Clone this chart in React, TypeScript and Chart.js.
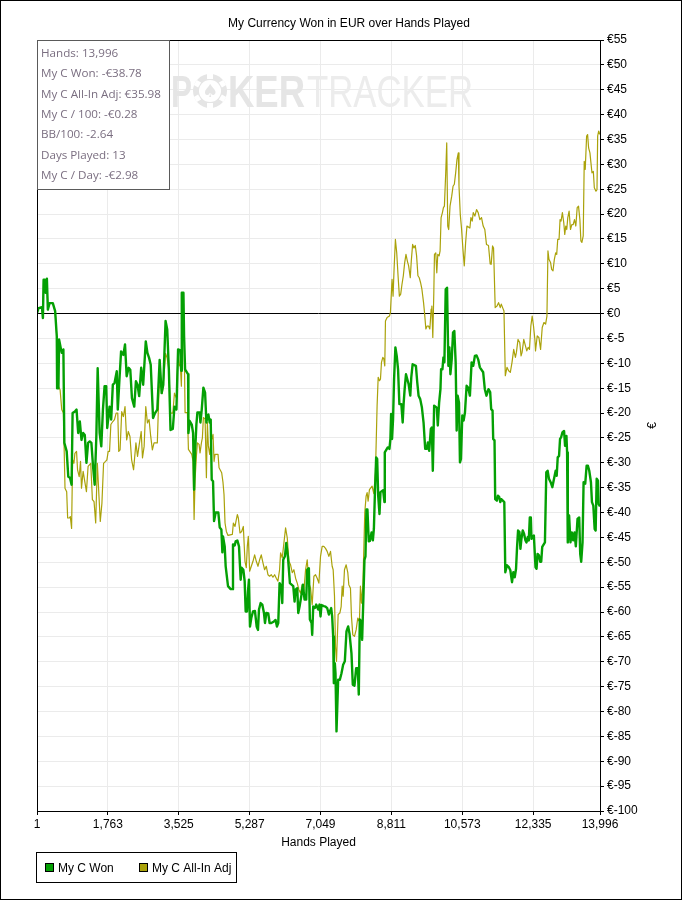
import React, { useEffect, useRef } from "react";
import { Chart, registerables } from "chart.js";

Chart.register(...registerables);

const chartTitle = "My Currency Won in EUR over Hands Played";
const xAxisTitle = "Hands Played";
const yAxisTitle = "€";
const xTicks = [1, 1763, 3525, 5287, 7049, 8811, 10573, 12335, 13996];
const yMin = -100;
const yMax = 55;
const seriesNames = ["My C Won", "My C All-In Adj"];
const seriesColors = ["#04a004", "#aaa20a"];
const statLines = [
  "Hands: 13,996",
  "My C Won: -€38.78",
  "My C All-In Adj: €35.98",
  "My C / 100: -€0.28",
  "BB/100: -2.64",
  "Days Played: 13",
  "My C / Day: -€2.98",
];

const wonHands = [
  1, 42, 124, 148, 165, 198, 214, 247, 271, 312, 394, 452, 493, 501, 534, 550, 591, 616, 657, 681,
  739, 779, 821, 861, 886, 943, 984, 1025, 1066, 1107, 1148, 1189, 1230, 1271, 1312, 1353, 1394, 1435, 1476, 1509,
  1558, 1599, 1640, 1681, 1722, 1747, 1804, 1845, 1886, 1927, 1984, 2009, 2050, 2091, 2148, 2189, 2230, 2279, 2320, 2361,
  2418, 2460, 2500, 2541, 2591, 2640, 2705, 2746, 2787, 2828, 2886, 2935, 2992, 3050, 3099, 3140, 3197, 3238, 3279, 3320,
  3377, 3418, 3467, 3508, 3566, 3585, 3600, 3641, 3657, 3682, 3757, 3765, 3798, 3848, 3881, 3906, 3930, 3963, 3988, 4046,
  4063, 4096, 4137, 4179, 4212, 4236, 4261, 4294, 4319, 4344, 4377, 4402, 4443, 4509, 4543, 4584, 4609, 4625, 4667, 4691,
  4749, 4815, 4857, 4873, 4915, 4940, 4981, 5022, 5064, 5088, 5130, 5163, 5188, 5221, 5246, 5270, 5295, 5328, 5370, 5419,
  5461, 5494, 5519, 5560, 5601, 5643, 5668, 5701, 5750, 5783, 5825, 5891, 5932, 5965, 5998, 6031, 6073, 6098, 6122, 6164,
  6197, 6238, 6288, 6329, 6371, 6404, 6429, 6470, 6495, 6528, 6569, 6611, 6652, 6693, 6718, 6759, 6784, 6826, 6842, 6867,
  6908, 6941, 6991, 7024, 7049, 7074, 7132, 7173, 7214, 7256, 7281, 7314, 7338, 7363, 7380, 7405, 7421, 7446, 7487, 7529,
  7570, 7611, 7653, 7694, 7736, 7769, 7818, 7851, 7893, 7934, 7975, 8000, 8025, 8058, 8083, 8108, 8141, 8166, 8190, 8215,
  8248, 8276, 8317, 8350, 8375, 8399, 8432, 8457, 8482, 8515, 8539, 8605, 8638, 8646, 8720, 8762, 8786, 8803, 8827, 8852,
  8877, 8910, 8943, 8976, 9009, 9058, 9091, 9116, 9140, 9173, 9206, 9239, 9280, 9305, 9338, 9420, 9453, 9486, 9527, 9569,
  9610, 9651, 9692, 9717, 9750, 9791, 9816, 9840, 9873, 9939, 9964, 9997, 10030, 10046, 10079, 10104, 10128, 10161, 10194, 10227,
  10252, 10277, 10310, 10343, 10375, 10408, 10433, 10458, 10491, 10515, 10540, 10573, 10606, 10639, 10680, 10721, 10762, 10804, 10845, 10886,
  10927, 10968, 11009, 11092, 11133, 11174, 11224, 11266, 11291, 11325, 11341, 11374, 11391, 11433, 11458, 11492, 11517, 11542, 11617, 11642,
  11684, 11725, 11767, 11809, 11842, 11876, 11909, 11934, 11959, 11993, 12018, 12043, 12076, 12110, 12143, 12168, 12201, 12226, 12251, 12277,
  12293, 12352, 12393, 12419, 12444, 12477, 12510, 12535, 12560, 12627, 12661, 12694, 12727, 12769, 12811, 12853, 12894, 12920, 12945, 12978,
  13003, 13028, 13061, 13103, 13128, 13162, 13178, 13195, 13228, 13262, 13295, 13329, 13362, 13395, 13437, 13479, 13504, 13529, 13562, 13588,
  13629, 13663, 13696, 13729, 13771, 13796, 13830, 13863, 13888, 13913, 13946, 13963, 13996,
];
const wonValues = [
  0.1, 1.1, 1.3, -0.9, 6.8, 6.8, 4.2, 7.0, 0.8, 2.1, 2.1, 0.5, -4.6, -15, -15, -5.2, -6.9, -7.9, -7.2, -26,
  -27.7, -32.8, -33, -34.4, -20, -19.7, -19.3, -24, -21.7, -25.4, -24, -24.4, -30, -26, -25.7, -26, -30.7, -34.4, -24.7, -11,
  -24, -26.7, -19.3, -14.6, -14.6, -23, -18.7, -21.3, -14.3, -14, -11.6, -19.3, -13.3, -7.6, -8.3, -6.2, -12.6, -10.9, -11.3, -17,
  -18.7, -13.6, -14.3, -16.6, -10.9, -14.3, -5.6, -7.9, -8.9, -10.3, -21, -20, -19.3, -9.3, -16, -14.3, -1.5, -3.2, -11.3, -23.4,
  -23.2, -18.7, -19.3, -7.2, -7.4, -11.5, 4.2, 4.2, -4.5, -11.2, -12.2, -24, -21.6, -22.3, -24, -35.4, -28, -22.3, -19.9, -19.9,
  -21.9, -19.3, -14.9, -15.9, -21.9, -20.6, -20.3, -21.9, -21.3, -33.4, -33.7, -41.7, -40, -40, -43, -43.4, -48, -44.8, -46.8, -50.8,
  -54.8, -55.4, -55.4, -46.4, -46.6, -45.8, -45.6, -46.8, -53.5, -51.1, -51.5, -53.8, -59.9, -59.9, -55.8, -53.5, -62.9, -61.2, -59.9, -59.8,
  -62.9, -63.6, -59.5, -58.2, -58.5, -60.2, -62.2, -60.2, -60.3, -62.2, -62.2, -61.9, -61.6, -62.9, -62.2, -54.2, -54.8, -58.2, -49.5, -48.8,
  -46.1, -48.8, -54.2, -54.5, -54.8, -57.9, -55.5, -55.2, -60.2, -58.9, -56.9, -54.5, -57.5, -57.5, -51.5, -51.2, -61.5, -62.2, -64.6, -58.9,
  -59.2, -58.5, -59.5, -58.5, -60.9, -58.6, -58.8, -58.9, -59.2, -60.5, -59.9, -59.2, -60.9, -64.9, -74.3, -70.3, -72.3, -84, -73.6, -73.6,
  -72.3, -70.6, -69.9, -63.9, -62.9, -64.3, -68.3, -74.6, -74.8, -71.3, -71.3, -76.6, -61.5, -61.9, -65.6, -58.9, -49.5, -48.8, -39.4, -39.4,
  -45.8, -45.7, -44, -45.6, -43.3, -36.6, -28.9, -29.2, -36.6, -40.3, -35.9, -35.5, -37.9, -27.9, -26.9, -27.2, -25.2, -20.2, -25.2, -21.2,
  -13.2, -6.8, -8.5, -11.2, -18.2, -18.2, -21.9, -17.9, -15.2, -12.2, -13.2, -14.2, -16.5, -12.8, -10.2, -10.5, -13.8, -16.5, -17.2, -18.9,
  -21.9, -27.2, -27.2, -25.9, -27.6, -23.2, -22.9, -31.6, -18.5, -18.9, -22.5, -17.9, -15.2, -11.2, -11.2, -8.8, -9.8, 4.9, 5.2, -10.5,
  -6.8, -12.2, -9.2, -3.8, -3.5, -9.8, -23.5, -16.5, -17.9, -29.9, -29.2, -20.5, -21.5, -19.9, -14.5, -14.9, -16.5, -9.8, -10.5, -8.5,
  -8.4, -9.2, -10.8, -11.8, -15.2, -16.5, -15.2, -15.8, -19.2, -19.5, -25.2, -25.5, -37.3, -37.6, -36.6, -36.9, -37.9, -37.3, -37.9, -52,
  -50.6, -50.9, -51.6, -54, -52, -53, -51.3, -47, -43.6, -43.9, -47.3, -45.3, -43.6, -44.3, -45.6, -46, -44.9, -45.6, -41, -41,
  -45.3, -44.6, -51, -51.3, -48.3, -48.6, -49.9, -49.9, -46.9, -46, -31.9, -31.6, -33.2, -33.9, -34.9, -33.2, -31.6, -32.6, -28.9, -28.6,
  -25.2, -24.9, -23.9, -23.6, -26.6, -24.6, -27.9, -46, -40.6, -46, -44, -45.6, -44, -46.8, -41.3, -41, -48.3, -49.9, -46, -33.9,
  -34.2, -30.6, -30.6, -31.6, -33.9, -37.9, -38.6, -43.3, -43.6, -33.2, -33.6, -38.3, -38.78,
];

const adjHands = [
  1, 42, 124, 148, 165, 198, 214, 247, 271, 312, 394, 452, 493, 509, 575, 616, 657, 697, 739, 763,
  804, 829, 861, 886, 919, 943, 984, 1009, 1050, 1083, 1107, 1148, 1189, 1230, 1271, 1337, 1378, 1419, 1460, 1501,
  1542, 1574, 1615, 1656, 1705, 1738, 1771, 1804, 1837, 1886, 1927, 1968, 2009, 2033, 2066, 2107, 2148, 2189, 2230, 2271,
  2312, 2353, 2402, 2460, 2500, 2541, 2591, 2623, 2664, 2705, 2746, 2787, 2828, 2869, 2910, 2992, 3033, 3074, 3115, 3156,
  3197, 3238, 3279, 3320, 3377, 3418, 3467, 3508, 3545, 3566, 3590, 3615, 3645, 3657, 3682, 3740, 3765, 3848, 3881, 3906,
  3930, 3963, 3988, 4030, 4054, 4088, 4112, 4137, 4179, 4212, 4236, 4261, 4294, 4319, 4344, 4377, 4402, 4427, 4501, 4526,
  4592, 4625, 4650, 4675, 4708, 4749, 4857, 4882, 4923, 4956, 4981, 5006, 5047, 5088, 5130, 5171, 5204, 5229, 5254, 5287,
  5328, 5370, 5411, 5452, 5494, 5535, 5576, 5618, 5659, 5701, 5742, 5783, 5825, 5866, 5908, 5949, 5990, 6031, 6056, 6098,
  6139, 6180, 6222, 6263, 6304, 6346, 6387, 6429, 6470, 6511, 6553, 6594, 6635, 6677, 6718, 6759, 6801, 6842, 6884, 6925,
  6966, 7008, 7049, 7090, 7132, 7173, 7214, 7256, 7297, 7338, 7363, 7396, 7421, 7446, 7487, 7529, 7562, 7587, 7611, 7644,
  7686, 7727, 7752, 7793, 7818, 7851, 7893, 7934, 7975, 8016, 8041, 8066, 8100, 8149, 8182, 8207, 8232, 8265, 8331, 8373,
  8414, 8455, 8482, 8515, 8539, 8564, 8597, 8622, 8646, 8663, 8704, 8762, 8786, 8827, 8852, 8877, 8910, 8943, 8976, 9009,
  9042, 9074, 9107, 9140, 9173, 9206, 9239, 9280, 9305, 9338, 9371, 9404, 9437, 9470, 9503, 9536, 9569, 9610, 9634, 9667,
  9700, 9733, 9766, 9799, 9816, 9840, 9865, 9881, 9914, 9939, 9964, 9997, 10021, 10046, 10079, 10104, 10128, 10161, 10186, 10211,
  10235, 10268, 10310, 10343, 10375, 10408, 10441, 10474, 10491, 10523, 10556, 10589, 10622, 10655, 10688, 10762, 10787, 10820, 10845, 10886,
  10927, 10968, 11009, 11051, 11092, 11133, 11174, 11224, 11266, 11291, 11325, 11350, 11391, 11433, 11475, 11517, 11542, 11575, 11609, 11642,
  11684, 11725, 11767, 11809, 11851, 11893, 11918, 11959, 12001, 12034, 12059, 12101, 12143, 12176, 12210, 12243, 12277, 12310, 12343, 12377,
  12393, 12435, 12477, 12519, 12560, 12602, 12644, 12677, 12702, 12727, 12769, 12794, 12828, 12861, 12894, 12920, 12945, 12978, 13003, 13028,
  13061, 13095, 13120, 13145, 13170, 13195, 13228, 13262, 13295, 13329, 13362, 13395, 13429, 13462, 13496, 13521, 13546, 13579, 13604, 13629,
  13663, 13688, 13713, 13746, 13771, 13796, 13830, 13855, 13896, 13921, 13938, 13963, 13996,
];
const adjValues = [
  0.1, 1.1, 1.3, -0.9, 6.8, 6.8, 4.2, 7.0, 0.8, 2.1, 2.1, 0.5, -4.6, -14.3, -15.3, -19.3, -20, -35.1, -35.8, -41.1,
  -41.1, -40.8, -43.2, -29.4, -30.1, -28.1, -27.7, -31.4, -32.8, -29.7, -35.1, -31.7, -33.8, -35.8, -30.7, -30.1, -37.4, -37.8, -42.1, -30.1,
  -36.8, -41.8, -38.1, -30.1, -29.7, -29.4, -27.7, -27.7, -22.3, -21.7, -21.3, -20, -20, -27.7, -27.4, -19.7, -20.7, -18.7, -25.4, -23.7,
  -24.7, -29.4, -31.4, -26, -28.7, -26.4, -23.7, -29, -26.7, -18.7, -22, -21.3, -24.7, -27.4, -26, -26, -15.3, -13.3, -16, -12.6,
  -8, -9, -11.3, -20, -20, -16, -17, -8, -10.5, -10.6, -14.6, -3, -3, -4, -19.9, -19.9, -27.3, -28.3, -29.7, -41.4,
  -33.4, -28.7, -26, -26.3, -28, -26, -25, -20.9, -21.2, -33, -21.9, -26.6, -28.3, -26, -25.3, -24.3, -29.7, -28.3, -28.3, -31,
  -32, -34, -36.4, -42.1, -43.8, -44.6, -44.4, -42.1, -42.8, -41.4, -40.4, -41.1, -44.1, -43.8, -42.8, -49.8, -51.1, -46.8, -44.8, -51.8,
  -50.8, -49.8, -48.5, -49.8, -50.8, -49.5, -48.5, -50.1, -51.5, -50.8, -52.5, -52.8, -52.5, -53, -52.5, -53.2, -53.8, -51.5, -48.1, -49.1,
  -46.1, -43.1, -45.1, -49.8, -50.5, -52.1, -51.5, -53.2, -54.2, -55.5, -56.2, -54.5, -55.8, -51.5, -49.5, -54.2, -55.2, -58.5, -52.8, -52.5,
  -53.2, -54.2, -48.8, -46.8, -46.8, -47.2, -47.8, -48.8, -47.8, -50.8, -51.5, -56.8, -66.9, -69.9, -60.5, -60.2, -58.9, -54.8, -56.8, -51.5,
  -50.5, -52.1, -54.5, -55.2, -60.9, -64.6, -64.9, -63.6, -61.2, -61.9, -54.8, -58.2, -54.8, -40, -36.7, -36, -37.7, -35.4, -34.7, -36.2,
  -32, -18.6, -12.8, -13.5, -13.2, -9.8, -8.8, -9.1, -10.5, -1.5, -0.8, -0.5, 0.2, 6.9, 3.5, 8.9, 14.9, 12.2, 7.6, 3.5,
  3.9, 5.9, 7.6, 10.2, 11.9, 10.6, 9.6, 7.2, 10.6, 13.9, 13.2, 13.7, 11.6, 7.6, 7.2, 6.2, 4.9, 2.2, 0.2, -3.1,
  -2.5, -2.5, -3.1, 0.9, 1.5, -4.8, 4.2, 11.9, 12.2, 8.2, 11.9, 11.6, 12.6, 19.3, 20.3, 21.3, 21.6, 28.3, 34.3, 17.6,
  16.9, 21.6, 23.6, 25.6, 26, 28.3, 31, 32.3, 25.6, 19.9, 16.9, 12.9, 9.6, 14.2, 17.6, 17.2, 19.3, 18.6, 20.3, 19.6,
  20.9, 20.3, 18.9, 19.3, 17.6, 16.9, 13.9, 13.7, 10, 9.9, 13.6, 13.2, 1.2, 1.5, 2.2, 1.2, 1.9, 1.2, 0.5, -12.5,
  -10.8, -11.5, -11.8, -9.8, -7.2, -8.8, -7.8, -5.2, -5.8, -8.5, -7.8, -5.2, -6.5, -7.5, -6.8, -7.2, -2.5, -0.5, -2.5, -5.2,
  -7.5, -4.5, -4.8, -7.2, -2.8, -1.8, -2.1, -0.5, 12.6, 10.9, 10.2, 8.9, 8.6, 10.9, 12.2, 11.9, 14.9, 14.9, 18.9, 18.6,
  20.3, 18.3, 15.9, 17.6, 16.9, 19.3, 20.6, 16.9, 17.9, 17.9, 18.9, 17.6, 21.3, 21.6, 18.9, 14.6, 14.3, 15.6, 30.6, 29,
  35.7, 36, 33.3, 32.3, 30.3, 28.3, 28.6, 25.3, 24.6, 24.9, 35.7, 36.7, 35.98,
];

const TEXT_FONT = '"Liberation Sans", Arial, sans-serif';
const STAT_FONT = '"Open Sans", "Noto Sans", sans-serif';

function drawScaledText(ctx: CanvasRenderingContext2D, text: string, x: number, baseline: number, width: number) {
  const w = ctx.measureText(text).width;
  ctx.save();
  ctx.translate(x, baseline);
  ctx.scale(width / w, 1);
  ctx.fillText(text, 0, 0);
  ctx.restore();
}

const decorPlugin = {
  id: "decor",
  beforeDraw(chart: any) {
    const ctx = chart.ctx as CanvasRenderingContext2D;
    ctx.save();
    ctx.fillStyle = "#ffffff";
    ctx.fillRect(0, 0, chart.width, chart.height);
    ctx.restore();
  },
  beforeDatasetsDraw(chart: any) {
    const ctx = chart.ctx as CanvasRenderingContext2D;
    ctx.save();
    // watermark
    ctx.textAlign = "left";
    ctx.textBaseline = "alphabetic";
    ctx.font = `bold 44px ${TEXT_FONT}`;
    ctx.fillStyle = "#e5e5e5";
    drawScaledText(ctx, "P", 171, 107, 21);
    drawScaledText(ctx, "KER", 228, 107, 77);
    ctx.font = `44px ${TEXT_FONT}`;
    ctx.fillStyle = "#ececec";
    drawScaledText(ctx, "TRACKER", 307, 107, 166);
    // chip
    const cx = 210, cy = 91;
    ctx.fillStyle = "#e5e5e5";
    ctx.beginPath();
    ctx.arc(cx, cy, 17, 0, Math.PI * 2);
    ctx.fill();
    ctx.fillStyle = "#ffffff";
    for (let i = 0; i < 6; i++) {
      const a = (i * Math.PI) / 3 + Math.PI / 6;
      ctx.save();
      ctx.translate(cx + Math.cos(a) * 14.5, cy + Math.sin(a) * 14.5);
      ctx.rotate(a);
      ctx.fillRect(-2.5, -3, 5, 6);
      ctx.restore();
    }
    ctx.beginPath();
    ctx.arc(cx, cy, 11, 0, Math.PI * 2);
    ctx.fill();
    ctx.fillStyle = "#e5e5e5";
    ctx.font = `18px "DejaVu Sans", sans-serif`;
    ctx.textAlign = "center";
    ctx.textBaseline = "middle";
    ctx.fillText("\u2660", cx, cy + 1);
    ctx.restore();
  },
  afterDatasetsDraw(chart: any) {
    const ctx = chart.ctx as CanvasRenderingContext2D;
    const area = chart.chartArea;
    ctx.save();
    // plot frame (left and top edges)
    ctx.strokeStyle = "#000";
    ctx.lineWidth = 1;
    const lx = Math.round(area.left) + 0.5;
    const ty = Math.round(area.top) + 0.5;
    ctx.beginPath();
    ctx.moveTo(lx, Math.round(area.bottom) + 0.5);
    ctx.lineTo(lx, ty);
    ctx.lineTo(Math.round(area.right) + 0.5, ty);
    ctx.stroke();
    // outer frame
    ctx.strokeRect(0.5, 0.5, 681, 899);

    // stats box
    ctx.fillStyle = "#ffffff";
    ctx.fillRect(lx, ty, 132, 149);
    ctx.strokeStyle = "#5a5a5a";
    ctx.strokeRect(lx, ty, 132, 149);
    ctx.font = `12px ${STAT_FONT}`;
    const wide = ctx.measureText(statLines[2]).width;
    const size = Math.min(12.5, (12 * 120) / wide);
    ctx.font = `${size.toFixed(2)}px ${STAT_FONT}`;
    ctx.fillStyle = "#7a6e80";
    ctx.textAlign = "left";
    ctx.textBaseline = "alphabetic";
    statLines.forEach((line, i) => {
      ctx.fillText(line, 41, 57 + i * 20.3);
    });

    // title
    ctx.fillStyle = "#000";
    ctx.font = `12px ${TEXT_FONT}`;
    ctx.textAlign = "center";
    ctx.fillText(chartTitle, 349, 27);

    // x axis title
    ctx.fillText(xAxisTitle, (area.left + area.right) / 2, 846);

    // y axis title (rotated)
    ctx.save();
    ctx.translate(656, (area.top + area.bottom) / 2);
    ctx.rotate(-Math.PI / 2);
    ctx.textBaseline = "alphabetic";
    ctx.fillText(yAxisTitle, 0, 0);
    ctx.restore();

    // legend
    ctx.strokeStyle = "#000";
    ctx.strokeRect(36.5, 852.5, 200, 30);
    ctx.textAlign = "left";
    const items = [
      { x: 45, tx: 58 },
      { x: 139, tx: 152 },
    ];
    items.forEach((it, i) => {
      ctx.fillStyle = seriesColors[i];
      ctx.fillRect(it.x, 863, 9, 9);
      ctx.strokeStyle = "#000";
      ctx.strokeRect(it.x + 0.5, 863.5, 8, 8);
      ctx.fillStyle = "#000";
      ctx.fillText(seriesNames[i], it.tx, 872);
    });
    ctx.restore();
  },
};

export default function App() {
  const canvasRef = useRef<HTMLCanvasElement | null>(null);

  useEffect(() => {
    document.body.style.margin = "0";
    const canvas = canvasRef.current;
    if (!canvas) return;
    const wonData = wonHands.map((h, i) => ({ x: h, y: wonValues[i] }));
    const adjData = adjHands.map((h, i) => ({ x: h, y: adjValues[i] }));
    const chart = new Chart(canvas, {
      type: "line",
      data: {
        datasets: [
          {
            label: seriesNames[0],
            data: wonData,
            borderColor: seriesColors[0],
            backgroundColor: seriesColors[0],
            borderWidth: 2.4,
            pointRadius: 0,
            tension: 0,
            borderJoinStyle: "round",
          },
          {
            label: seriesNames[1],
            data: adjData,
            borderColor: seriesColors[1],
            backgroundColor: seriesColors[1],
            borderWidth: 1.2,
            pointRadius: 0,
            tension: 0,
            borderJoinStyle: "round",
          },
        ],
      },
      options: {
        responsive: false,
        animation: false,
        devicePixelRatio: 1,
        events: [],
        layout: { padding: { left: 37, top: 40, right: 0, bottom: 0 } },
        plugins: {
          legend: { display: false },
          title: { display: false },
          tooltip: { enabled: false },
        },
        scales: {
          x: {
            type: "linear",
            position: "bottom",
            min: xTicks[0],
            max: xTicks[xTicks.length - 1],
            afterBuildTicks: (scale: any) => {
              scale.ticks = xTicks.map((v) => ({ value: v }));
            },
            afterFit: (scale: any) => {
              scale.height = 91;
            },
            ticks: {
              autoSkip: false,
              maxRotation: 0,
              minRotation: 0,
              padding: 2,
              color: "#000",
              font: { family: TEXT_FONT, size: 12 },
              callback: (v: any) => Number(v).toLocaleString("en-US"),
            },
            grid: { color: "#ebebeb", tickColor: "#000", tickLength: 4, lineWidth: 1 },
            border: { display: true, color: "#000", width: 1 },
          },
          y: {
            type: "linear",
            position: "right",
            min: yMin,
            max: yMax,
            afterFit: (scale: any) => {
              scale.width = 84;
            },
            ticks: {
              stepSize: 5,
              autoSkip: false,
              padding: 3,
              color: "#000",
              font: { family: TEXT_FONT, size: 12 },
              callback: (v: any) => "€" + v,
            },
            grid: {
              color: (c: any) => (c.tick && c.tick.value === 0 ? "#000" : "#ebebeb"),
              tickColor: "#000",
              tickLength: 4,
              lineWidth: 1,
            },
            border: { display: true, color: "#000", width: 1 },
          },
        },
      },
      plugins: [decorPlugin],
    });
    return () => chart.destroy();
  }, []);

  return (
    <div style={{ width: 684, height: 902, position: "relative" }}>
      <canvas ref={canvasRef} width={684} height={902} style={{ display: "block" }} />
    </div>
  );
}
